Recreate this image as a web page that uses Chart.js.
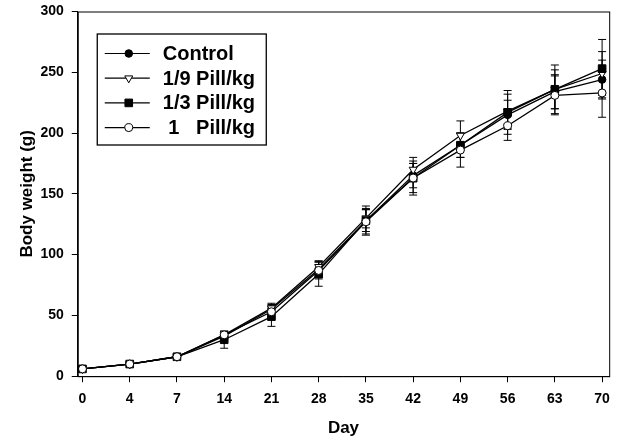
<!DOCTYPE html>
<html>
<head>
<meta charset="utf-8">
<script src="https://cdn.jsdelivr.net/npm/chart.js@4.4.1/dist/chart.umd.min.js"></script>
<style>
  html, body { margin: 0; padding: 0; background: #fff; }
  canvas { display: block; }
</style>
</head>
<body>
<canvas id="chart" width="619" height="437"></canvas>
<script>
const dayLabels = ['0', '4', '7', '14', '21', '28', '35', '42', '49', '56', '63', '70']

const seriesNames = ['Control', '1/9 Pill/kg', '1/3 Pill/kg', ' 1   Pill/kg']

const control = [6, 10, 16, 33, 55, 88, 128, 165, 190, 215, 234, 244]
const ninthPill = [6, 10, 16, 34, 56, 90, 130, 170, 198, 218, 236, 249]
const thirdPill = [6, 10, 16, 30, 49, 84, 128, 163, 190, 217, 236, 253]
const onePill = [6, 10, 16, 34, 53, 87, 127, 163, 186, 206, 231, 233]

const controlSd = [0.5, 1, 1.5, 3, 4, 6, 9, 10, 10, 12, 14, 16]
const ninthPillSd = [0.5, 1, 1.5, 3, 4, 5, 8, 10, 12, 14, 16, 18]
const thirdPillSd = [0.5, 1, 1.5, 7, 8, 10, 12, 12, 10, 18, 20, 24]
const onePillSd = [0.5, 1, 1.5, 3, 5, 7, 10, 14, 14, 12, 16, 20]

const values = [control, ninthPill, thirdPill, onePill]
const sds = [controlSd, ninthPillSd, thirdPillSd, onePillSd]

const styles = [
    { pointStyle: 'circle', radius: 3.8, fill: '#000', rotation: 0 },
    { pointStyle: 'triangle', radius: 4.6, fill: '#fff', rotation: 180 },
    { pointStyle: 'rect', radius: 5.4, fill: '#000', rotation: 0 },
    { pointStyle: 'circle', radius: 4, fill: '#fff', rotation: 0 }
]

const toPoints = arr => arr.map((v, i) => ({ x: i, y: v }))

// error bars, drawn under the markers
const errorBars = {
    id: 'errorBars',
    beforeDatasetsDraw(chart) {
        const ctx = chart.ctx
        const y = chart.scales.y
        ctx.save()
        ctx.strokeStyle = '#000'
        ctx.lineWidth = 1
        chart.data.datasets.forEach((ds, d) => {
            const meta = chart.getDatasetMeta(d)
            const k = ds.srcIndex
            meta.data.forEach((pt, i) => {
                const v = values[k][i]
                const sd = sds[k][i]
                const top = y.getPixelForValue(v + sd)
                const bot = y.getPixelForValue(v - sd)
                ctx.beginPath()
                ctx.moveTo(pt.x, top)
                ctx.lineTo(pt.x, bot)
                ctx.moveTo(pt.x - 4, top)
                ctx.lineTo(pt.x + 4, top)
                ctx.moveTo(pt.x - 4, bot)
                ctx.lineTo(pt.x + 4, bot)
                ctx.stroke()
            })
        })
        ctx.restore()
    }
}

// box around the plot + legend inside it
const frameAndLegend = {
    id: 'frameAndLegend',
    afterDraw(chart) {
        const ctx = chart.ctx
        const ca = chart.chartArea
        ctx.save()
        ctx.strokeStyle = '#000'
        ctx.lineWidth = 1
        ctx.strokeRect(ca.left + 0.5, ca.top + 0.5, ca.right - ca.left, ca.bottom - ca.top)

        const bx = ca.left + 19
        const by = ca.top + 22
        ctx.lineWidth = 1.3
        ctx.strokeRect(bx + 0.5, by + 0.5, 169, 111)

        ctx.font = 'bold 20px "Liberation Sans", Arial, sans-serif'
        ctx.textBaseline = 'middle'
        ctx.fillStyle = '#000'
        seriesNames.forEach((name, i) => {
            const ry = by + 20 + i * 24.7
            ctx.lineWidth = 1.2
            ctx.beginPath()
            ctx.moveTo(bx + 8, ry)
            ctx.lineTo(bx + 53, ry)
            ctx.stroke()
            const s = styles[i]
            ctx.fillStyle = s.fill
            ctx.lineWidth = 1
            Chart.helpers.drawPoint(ctx, {
                pointStyle: s.pointStyle,
                radius: s.radius,
                rotation: s.rotation,
                borderWidth: 1
            }, bx + 32, ry)
            ctx.fillStyle = '#000'
            ctx.fillText(name, bx + 66, ry + 1)
        })
        ctx.restore()
    }
}

const data = {
    datasets: values.map((arr, i) => ({
        label: seriesNames[i],
        srcIndex: i,
        data: toPoints(arr),
        borderColor: '#000',
        borderWidth: 1.3,
        pointStyle: styles[i].pointStyle,
        pointRadius: styles[i].radius,
        pointRotation: styles[i].rotation,
        pointBackgroundColor: styles[i].fill,
        pointBorderColor: '#000',
        pointBorderWidth: 1,
        tension: 0,
        fill: false
    })).reverse()
}

const tickFont = { family: '"Liberation Sans", Arial, sans-serif', size: 14, weight: 'bold' }
const titleFont = { family: '"Liberation Sans", Arial, sans-serif', size: 17, weight: 'bold' }

const config = {
    type: 'line',
    data: data,
    options: {
        responsive: false,
        animation: false,
        devicePixelRatio: 1,
        layout: {
            padding: { left: 17, right: 8, top: 11, bottom: 0 }
        },
        plugins: {
            legend: { display: false },
            tooltip: { enabled: false }
        },
        scales: {
            x: {
                type: 'linear',
                min: -0.1,
                max: 11.15,
                afterBuildTicks: scale => {
                    scale.ticks = dayLabels.map((_, i) => ({ value: i }))
                },
                ticks: {
                    callback: v => dayLabels[v],
                    color: '#000',
                    font: tickFont,
                    padding: 9,
                    maxRotation: 0,
                    autoSkip: false
                },
                grid: { drawOnChartArea: false, tickLength: 6, color: '#000' },
                border: { color: '#000', width: 1 },
                title: {
                    display: true,
                    text: 'Day',
                    color: '#000',
                    font: { ...titleFont, lineHeight: 1.0 },
                    padding: { top: 3, bottom: 0 }
                }
            },
            y: {
                min: 0,
                max: 300,
                ticks: {
                    stepSize: 50,
                    color: '#000',
                    font: { ...tickFont, lineHeight: 0.5 },
                    padding: 8
                },
                grid: { drawOnChartArea: false, tickLength: 6, color: '#000' },
                border: { color: '#000', width: 1 },
                title: {
                    display: true,
                    text: 'Body weight (g)',
                    color: '#000',
                    font: titleFont,
                    padding: { top: 0, bottom: -5 }
                }
            }
        }
    },
    plugins: [errorBars, frameAndLegend]
}

new Chart(document.getElementById('chart'), config)
</script>
</body>
</html>
